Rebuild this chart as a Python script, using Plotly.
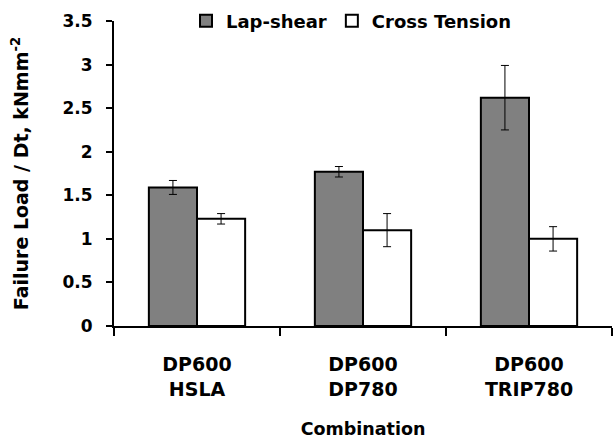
import plotly.graph_objects as go

categories = ["DP600<br>HSLA", "DP600<br>DP780", "DP600<br>TRIP780"]
lap_shear = [1.59, 1.77, 2.62]
lap_shear_err = [0.08, 0.06, 0.37]
cross_tension = [1.23, 1.10, 1.00]
cross_tension_err = [0.06, 0.19, 0.14]
y_ticks = [0, 0.5, 1, 1.5, 2, 2.5, 3, 3.5]
y_ticktext = ["0", "0.5", "1", "1.5", "2", "2.5", "3", "3.5"]

font_fam = "DejaVu Sans, Liberation Sans, Arial, sans-serif"

fig = go.Figure()
fig.add_trace(go.Bar(
    x=categories, y=lap_shear, name="Lap-shear",
    marker=dict(color="#808080", line=dict(color="black", width=2)),
    error_y=dict(type="data", array=lap_shear_err, color="black", thickness=1, width=4),
))
fig.add_trace(go.Bar(
    x=categories, y=cross_tension, name="Cross Tension",
    marker=dict(color="white", line=dict(color="black", width=2)),
    error_y=dict(type="data", array=cross_tension_err, color="black", thickness=1, width=4),
))

fig.update_layout(
    width=613, height=439,
    margin=dict(l=114, r=1, t=21, b=113, autoexpand=False),
    paper_bgcolor="white", plot_bgcolor="white",
    barmode="group", bargap=0.42, bargroupgap=0,
    font=dict(family=font_fam, size=17, color="black", weight="bold"),
    legend=dict(orientation="h", x=(186 - 114) / 498, y=1.0, xanchor="left", yanchor="middle",
                font=dict(size=18, weight="bold", color="black"), traceorder="normal",
                bgcolor="rgba(0,0,0,0)"),
    showlegend=True,
)
fig.update_xaxes(
    range=[-0.5, 2.5], showline=True, linecolor="black", linewidth=2,
    ticks="outside", tickson="boundaries", ticklen=8, tickwidth=2, tickcolor="black",
    showgrid=False, automargin=False,
    tickfont=dict(size=19, weight="bold", color="black"), ticklabelstandoff=20,
    title=dict(text="Combination", font=dict(size=17.5, weight="bold", color="black"), standoff=26),
)
fig.update_yaxes(
    range=[0, 3.5], tickvals=y_ticks, ticktext=y_ticktext,
    showline=True, linecolor="black", linewidth=2,
    ticks="outside", ticklen=6, tickwidth=2, tickcolor="black",
    showgrid=False, zeroline=False, automargin=False,
    tickfont=dict(size=17, weight="bold", color="black"), ticklabelstandoff=10,
    title=dict(text="Failure Load / Dt, kNmm<sup>-2</sup>", font=dict(size=19, weight="bold", color="black"), standoff=29),
)

fig.write_html("out.html", post_script="document.body.style.margin='0';",
               config={"displayModeBar": False})
